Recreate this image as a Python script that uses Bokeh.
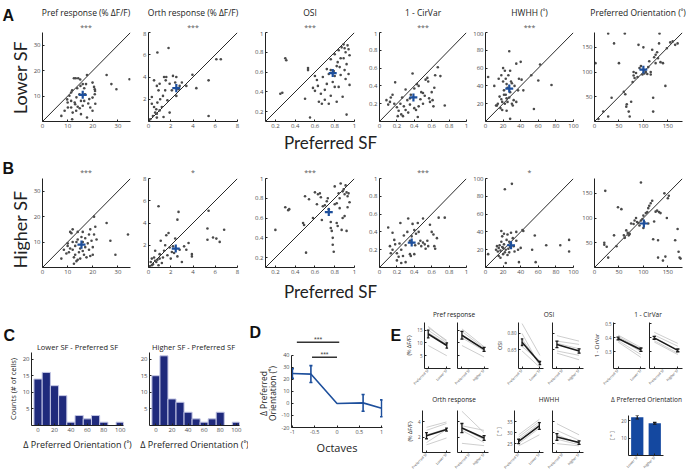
import math
from bokeh.plotting import figure
from bokeh.layouts import row, column
from bokeh.models import Range1d, FixedTicker, Label
from bokeh.embed import file_html
from bokeh.resources import INLINE

FONT = "Open Sans"
BIG_FONT = "Lato"
LETTER_FONT = "Liberation Sans"
BLUE = "#1d4f9c"
NAVY = "#1f2a7c"
BAR_BLUE = "#1448a0"
DOT = "#4a4a4a"
AX = "#222222"
TICK_TXT = "#4d4d4d"

# ------------------------------------------------------------------ data
SC_titles = ["Pref response (% ΔF/F)", "Orth response (% ΔF/F)", "OSI", "1 - CirVar",
             "HWHH (˚)", "Preferred Orientation (˚)"]
SC_lims = [(0, 35), (0, 8), (0.1, 1), (0, 1), (0, 100), (0, 180)]
SC_xticks = [[0, 10, 20, 30], [0, 2, 4, 6, 8], [0.2, 0.4, 0.6, 0.8, 1],
             [0, 0.2, 0.4, 0.6, 0.8, 1], [0, 20, 40, 60, 80, 100], [0, 50, 100, 150]]
SC_yticks = [[10, 20, 30], [2, 4, 6, 8], [0.2, 0.4, 0.6, 0.8, 1],
             [0.2, 0.4, 0.6, 0.8, 1], [20, 40, 60, 80, 100], [50, 100, 150]]
A_sig = ["***", "***", "***", "***", "***", ""]
B_sig = ["***", "*", "***", "***", "*", ""]

A_mean_x = [16, 2.5, 0.78, 0.39, 27, 100]
A_mean_y = [10.5, 3.0, 0.59, 0.27, 37, 105]
A_sem_x = [1.6, 0.36, 0.04, 0.045, 4.5, 8]
A_sem_y = [1.6, 0.36, 0.04, 0.045, 4.5, 8]
B_mean_x = [15.5, 2.45, 0.74, 0.37, 29, 101]
B_mean_y = [9, 1.7, 0.66, 0.28, 25, 89]
B_sem_x = [1.6, 0.36, 0.04, 0.045, 4.5, 8]
B_sem_y = [1.6, 0.36, 0.04, 0.045, 4.5, 8]

A1_pts = [(7.5, 2.2), (11.8, 0.9), (10, 7.5), (11.4, 8.1), (12.5, 17), (13.2, 17), (14.2, 17), (15, 16.5),
          (17.7, 18.3), (16, 14.7), (16.6, 13.1), (19.9, 15.3), (20.5, 13.6), (20.8, 12.7), (20.9, 12),
          (17.7, 1.6), (19.9, 4.2), (25.5, 18.3), (27.4, 14.7), (29.4, 12.7), (34.6, 16.6), (18.6, 8.8),
          (19.9, 9.4), (20.8, 10.7), (14, 5.8), (13.4, 4.2), (14.8, 5.2), (15.3, 8.1), (13, 6.8), (11.4, 5.5),
          (10.7, 10.1), (11.4, 11.4), (11.8, 12.3), (16.9, 10.7), (16.6, 8.1), (18.2, 7.1), (16, 6.2),
          (15.3, 2.9), (10.1, 5.5), (8.8, 4.2), (9.8, 8.7), (14.7, 10.7), (13.8, 13.1), (15.1, 14),
          (17.3, 14.7), (12, 3.5), (21, 7), (19, 5.5), (13.5, 9.5), (12.8, 7.5)]
A2_pts = [(0.8, 6.2), (1.8, 6.6), (0.5, 3.7), (0.9, 2.8), (0.3, 2.2), (1.4, 4), (1.6, 4), (1.55, 3.7),
          (1.9, 3.4), (2.2, 4.1), (2.5, 4), (2.4, 3.5), (2.7, 2.9), (3.95, 4.2), (4.3, 3), (3.4, 3.2),
          (6.1, 5.6), (6.5, 5.6), (5.4, 3.7), (5.4, 0.5), (1.9, 0.8), (2.5, 2.3), (0.15, 0.2), (0.4, 0.5),
          (0.6, 0.8), (0.75, 0.7), (1, 1), (1.2, 1.3), (0.5, 1.3), (0.3, 1.6), (0.75, 0.35), (1.35, 0.4),
          (0.7, 1.1), (0.8, 1.7), (1.05, 2), (1.3, 2.3), (1.5, 2.8), (0.75, 3.2), (1, 3.4), (1.7, 1.9),
          (2.1, 2.8), (2.8, 3.2), (3, 3.5)]
A3_pts = [(0.30, 0.74), (0.31, 0.72), (0.25, 0.38), (0.27, 0.39), (0.55, 0.14), (0.92, 0.17), (0.53, 0.64),
          (0.53, 0.62), (0.50, 0.33), (0.60, 0.56), (0.62, 0.52), (0.58, 0.44), (0.60, 0.41), (0.63, 0.46),
          (0.64, 0.30), (0.67, 0.28), (0.70, 0.32), (0.66, 0.38), (0.70, 0.42), (0.72, 0.48), (0.68, 0.55),
          (0.74, 0.58), (0.76, 0.62), (0.79, 0.61), (0.80, 0.56), (0.78, 0.50), (0.80, 0.45), (0.76, 0.36),
          (0.74, 0.28), (0.82, 0.30), (0.88, 0.35), (0.85, 0.65), (0.83, 0.70), (0.86, 0.74), (0.80, 0.78),
          (0.84, 0.82), (0.87, 0.85), (0.89, 0.88), (0.90, 0.84), (0.91, 0.80), (0.93, 0.87), (0.94, 0.83),
          (0.95, 0.77), (0.92, 0.68), (0.90, 0.62), (0.94, 0.58), (0.91, 0.53), (0.95, 0.47), (0.89, 0.74),
          (0.82, 0.66), (0.76, 0.73), (0.72, 0.63), (0.86, 0.57), (0.84, 0.45)]
A4_pts = [(0.08, 0.24), (0.10, 0.19), (0.12, 0.22), (0.13, 0.27), (0.15, 0.30), (0.17, 0.20), (0.18, 0.44),
          (0.20, 0.16), (0.22, 0.12), (0.24, 0.20), (0.25, 0.08), (0.27, 0.06), (0.28, 0.17), (0.30, 0.13),
          (0.30, 0.36), (0.32, 0.24), (0.33, 0.10), (0.35, 0.19), (0.36, 0.30), (0.38, 0.54), (0.40, 0.37),
          (0.40, 0.15), (0.42, 0.13), (0.44, 0.05), (0.45, 0.40), (0.47, 0.25), (0.48, 0.33), (0.50, 0.32),
          (0.52, 0.29), (0.53, 0.47), (0.55, 0.49), (0.56, 0.45), (0.58, 0.22), (0.60, 0.33), (0.61, 0.24),
          (0.62, 0.17), (0.64, 0.52), (0.67, 0.61), (0.70, 0.51), (0.75, 0.18), (0.45, 0.17), (0.50, 0.20),
          (0.35, 0.26), (0.26, 0.27), (0.21, 0.06), (0.43, 0.42), (0.57, 0.26), (0.63, 0.38)]
A5_pts = [(3, 50), (10, 40), (12, 18), (15, 48), (16, 28), (17, 15), (18, 25), (18, 52), (19, 22), (20, 60),
          (20, 45), (21, 35), (22, 57), (22, 20), (23, 48), (23, 30), (24, 42), (24, 26), (25, 22), (25, 38),
          (26, 52), (27, 79), (27, 27), (28, 57), (28, 33), (29, 45), (30, 43), (30, 20), (31, 18), (32, 24),
          (33, 40), (35, 65), (35, 22), (37, 35), (38, 48), (40, 67), (41, 47), (43, 35), (28, 3), (55, 14),
          (60, 46), (62, 64), (75, 41), (52, 52), (14, 20), (13, 18), (19, 13), (21, 30), (24, 12)]
A6_pts = [(2, 118), (8, 5), (18, 20), (28, 10), (28, 178), (35, 48), (40, 158), (50, 118), (60, 60), (62, 178),
          (63, 55), (65, 30), (66, 35), (70, 20), (72, 10), (75, 40), (78, 80), (80, 100), (80, 93), (82, 88),
          (85, 98), (88, 90), (90, 155), (92, 108), (95, 112), (98, 95), (100, 150), (102, 97), (105, 100),
          (108, 96), (110, 110), (112, 122), (115, 95), (118, 145), (120, 48), (120, 20), (122, 130),
          (125, 135), (128, 140), (130, 128), (132, 158), (133, 178), (135, 120), (140, 118), (145, 72),
          (148, 148), (155, 160), (160, 162), (165, 155), (170, 158), (115, 100), (125, 118)]

B1_pts = [(7.5, 3.5), (8.5, 7), (9.5, 5.5), (10, 8.5), (10.5, 6), (11, 7.5), (11, 14), (11.5, 13.5), (12, 15),
          (12, 10), (12.5, 4), (13, 8.5), (13, 5), (13.5, 2.5), (14, 14), (14, 11), (14.5, 6), (15, 7.5),
          (15, 3.5), (15.5, 12), (16, 10), (16, 14), (16.5, 5), (17, 8), (17, 11.5), (17.5, 4), (18, 9.5),
          (18.5, 7), (18.5, 13), (19, 15), (19.5, 10.5), (20, 5), (20, 8), (20.5, 20), (20.5, 13), (21, 16),
          (21.5, 11), (10, 9.5), (12, 7), (13.5, 10), (16, 6.5), (25.5, 17.5), (27, 10.5), (29, 5), (34, 13),
          (12.5, 1.5), (14, 3), (19, 4.5)]
B2_pts = [(0.9, 5.5), (2.7, 5), (2.6, 4.3), (5.4, 5.1), (5.3, 3.5), (6.8, 3.4), (5.8, 2.7), (6.1, 2.6),
          (6.4, 2.3), (5.3, 2.5), (3.9, 1.2), (3.9, 1.0), (3.6, 2.2), (0.1, 0.1), (0.2, 0.5), (0.3, 0.8),
          (0.4, 0.3), (0.5, 0.9), (0.6, 0.6), (0.7, 0.5), (0.8, 0.7), (0.9, 0.2), (1.0, 0.8), (1.0, 1.2),
          (1.1, 2.4), (1.2, 0.4), (1.4, 1.5), (1.5, 2.0), (1.6, 2.9), (1.7, 1.1), (1.8, 3.1), (1.9, 1.8),
          (2.0, 0.8), (2.1, 1.4), (2.2, 1.9), (2.3, 1.3), (2.4, 2.6), (2.6, 1.0), (2.8, 1.6), (3.0, 0.5),
          (3.2, 1.9), (3.4, 1.6), (0.3, 0.2), (0.6, 1.5), (1.3, 0.9)]
B3_pts = [(0.20, 0.48), (0.30, 0.71), (0.33, 0.68), (0.34, 0.69), (0.48, 0.55), (0.49, 0.53), (0.50, 0.82),
          (0.51, 0.25), (0.54, 0.79), (0.58, 0.60), (0.60, 0.86), (0.62, 0.74), (0.63, 0.84), (0.65, 0.85),
          (0.66, 0.81), (0.68, 0.72), (0.70, 0.73), (0.72, 0.77), (0.73, 0.80), (0.76, 0.50), (0.76, 0.56),
          (0.77, 0.47), (0.78, 0.33), (0.79, 0.26), (0.78, 0.40), (0.80, 0.74), (0.80, 0.92), (0.82, 0.75),
          (0.82, 0.55), (0.83, 0.52), (0.84, 0.85), (0.85, 0.70), (0.86, 0.95), (0.87, 0.48), (0.88, 0.87),
          (0.89, 0.89), (0.90, 0.84), (0.91, 0.93), (0.92, 0.86), (0.93, 0.82), (0.94, 0.85), (0.95, 0.76),
          (0.90, 0.62), (0.92, 0.47), (0.88, 0.60), (0.93, 0.71), (0.85, 0.80), (0.74, 0.69), (0.67, 0.58)]
B4_pts = [(0.10, 0.45), (0.12, 0.24), (0.13, 0.16), (0.15, 0.20), (0.15, 0.39), (0.17, 0.31), (0.18, 0.26),
          (0.20, 0.16), (0.20, 0.08), (0.22, 0.12), (0.23, 0.27), (0.24, 0.50), (0.25, 0.05), (0.25, 0.20),
          (0.27, 0.13), (0.28, 0.36), (0.30, 0.06), (0.30, 0.25), (0.32, 0.40), (0.33, 0.55), (0.35, 0.15),
          (0.36, 0.13), (0.37, 0.35), (0.38, 0.49), (0.40, 0.42), (0.40, 0.15), (0.41, 0.25), (0.42, 0.38),
          (0.44, 0.50), (0.45, 0.40), (0.47, 0.30), (0.48, 0.24), (0.50, 0.28), (0.52, 0.26), (0.53, 0.21),
          (0.55, 0.30), (0.56, 0.24), (0.58, 0.48), (0.60, 0.40), (0.62, 0.37), (0.63, 0.24), (0.64, 0.21),
          (0.66, 0.33), (0.68, 0.56), (0.75, 0.56), (0.50, 0.55), (0.45, 0.27), (0.35, 0.30)]
B5_pts = [(3, 15), (12, 20), (13, 24), (14, 18), (15, 22), (15, 13), (16, 25), (17, 19), (17, 11), (18, 29),
          (18, 41), (19, 35), (20, 22), (20, 15), (21, 26), (21, 38), (22, 17), (22, 88), (23, 20), (23, 5),
          (24, 31), (25, 37), (26, 21), (27, 29), (27, 17), (28, 23), (29, 39), (30, 94), (31, 33), (32, 24),
          (33, 18), (35, 30), (35, 40), (37, 20), (38, 6), (40, 22), (42, 42), (43, 41), (53, 20), (56, 36),
          (57, 6), (69, 25), (85, 25), (95, 31), (95, 18), (19, 23), (25, 14)]
B6_pts = [(20, 50), (20, 46), (22, 155), (25, 42), (28, 20), (40, 65), (45, 43), (48, 122), (55, 118), (60, 65),
          (62, 60), (65, 75), (68, 70), (70, 65), (72, 68), (75, 89), (80, 88), (82, 95), (85, 100), (87, 92),
          (90, 90), (92, 85), (95, 95), (95, 172), (98, 98), (100, 105), (102, 92), (105, 110), (108, 112),
          (110, 120), (112, 125), (115, 130), (118, 135), (120, 57), (122, 93), (125, 113), (128, 115),
          (130, 20), (130, 55), (132, 112), (135, 110), (140, 14), (143, 150), (145, 22), (148, 100),
          (150, 140), (152, 145), (165, 55), (170, 78), (172, 32), (174, 20), (176, 18), (100, 80), (110, 89)]

# Panel C histograms
C_bins = [0, 10, 20, 30, 40, 50, 60, 70, 80, 90, 100]
C_lower = [14, 16, 12, 9, 1, 3, 2, 3, 1, 0, 1]
C_higher = [15, 21, 8, 7, 4, 2, 1, 2, 4, 0, 1]
C_titles = ["Lower SF - Preferred SF", "Higher SF - Preferred SF"]

# Panel D
D_x = [-1, -0.585, 0, 0.585, 1]
D_y = [25, 24.5, 0, 0.5, -4]
D_err = [4, 7, 0, 7, 7]
D_xticks = [-1, -0.5, 0, 0.5, 1]
D_yticks = [-20, -10, 0, 10, 20, 30, 40]
D_sig_x0 = [-0.9, -0.56]
D_sig_x1 = [0.05, 0.0]
D_sig_y = [51, 38.5]
D_sig_txt = ["***", "***"]

# Panel E (first value = Preferred SF, second = Lower/Higher SF)
E1a_gray = [(16.5, 10.5), (16, 11), (15, 10), (14, 9.5), (9, 5)]
E1b_gray = [(15.5, 8.5), (14.5, 8), (13, 7.5), (12, 7), (9, 4.5)]
E2a_gray = [(0.89, 0.60), (0.80, 0.50), (0.75, 0.52), (0.68, 0.55), (0.64, 0.49)]
E2b_gray = [(0.78, 0.73), (0.73, 0.70), (0.71, 0.66), (0.64, 0.60), (0.62, 0.56)]
E3a_gray = [(0.42, 0.33), (0.41, 0.32), (0.40, 0.30), (0.38, 0.28), (0.37, 0.26)]
E3b_gray = [(0.44, 0.36), (0.42, 0.34), (0.40, 0.31), (0.38, 0.29), (0.37, 0.28)]
E4a_gray = [(3.3, 4.0), (2.9, 3.8), (2.3, 3.1), (1.3, 3.0), (1.0, 1.9)]
E4b_gray = [(5.4, 2.6), (3.5, 2.9), (3.2, 1.7), (2.9, 1.3), (1.2, 0.9)]
E5a_gray = [(29, 36), (28, 35), (27, 34), (25, 32), (24, 29)]
E5b_gray = [(34, 29), (31, 26.5), (29, 25), (27, 24.5), (25, 24)]
E1a_mean, E1a_err = [13.5, 9.0], [1.5, 1.0]
E1b_mean, E1b_err = [13.0, 7.5], [1.5, 0.8]
E2a_mean, E2a_err = [0.72, 0.53], [0.03, 0.015]
E2b_mean, E2b_err = [0.70, 0.64], [0.03, 0.02]
E3a_mean, E3a_err = [0.395, 0.315], [0.01, 0.012]
E3b_mean, E3b_err = [0.40, 0.31], [0.01, 0.01]
E4a_mean, E4a_err = [2.2, 3.0], [0.4, 0.2]
E4b_mean, E4b_err = [3.2, 1.9], [0.6, 0.3]
E5a_mean, E5a_err = [26, 33], [1.0, 1.5]
E5b_mean, E5b_err = [28, 25.5], [1.5, 0.8]
E6_cats = ["Lower SF", "Higher SF"]
E6_vals = [22, 18.5]
E6_err = [1.0, 0.5]
E_xl_lower = ["Preferred SF", "Lower SF"]
E_xl_higher = ["Preferred SF", "Higher SF"]
E_top_titles = ["Pref response", "OSI", "1 - CirVar"]
E_bot_titles = ["Orth response", "HWHH", "Δ Preferred Orientation"]


# ------------------------------------------------------------------ helpers
def style_axis(ax, fs="6px"):
    ax.axis_line_color = AX
    ax.axis_line_width = 1
    ax.major_tick_line_color = AX
    ax.major_tick_in = 2
    ax.major_tick_out = 0
    ax.minor_tick_line_color = None
    ax.major_label_text_font = FONT
    ax.major_label_text_font_size = fs
    ax.major_label_text_color = TICK_TXT
    ax.major_label_standoff = 2
    ax.axis_label_text_font = FONT
    ax.axis_label_text_font_style = "normal"
    ax.axis_label_text_color = "#222222"
    ax.axis_label_standoff = 2


def make_fig(w, h, lb, rb, tb, bb, xr, yr, axes=True):
    kw = dict(width=w, height=h, x_range=Range1d(xr[0], xr[1]), y_range=Range1d(yr[0], yr[1]),
              output_backend="svg", toolbar_location=None,
              min_border_left=lb, min_border_right=rb, min_border_top=tb, min_border_bottom=bb)
    if not axes:
        kw["x_axis_type"] = None
        kw["y_axis_type"] = None
    p = figure(**kw)
    p.outline_line_color = None
    p.background_fill_color = "white"
    p.border_fill_color = "white"
    p.grid.visible = False
    for ax in p.axis:
        style_axis(ax)
    return p


def text_fig(w, h):
    # blank figure whose frame is the whole canvas, 1 unit = 1 px (y up)
    return make_fig(w, h, 0, 0, 0, 0, (0, w), (0, h), axes=False)


def set_ticks(ax, ticks, labels=None):
    ax.ticker = FixedTicker(ticks=list(ticks))
    ax.major_label_overrides = {t: (labels[i] if labels is not None else ("%g" % t))
                                for i, t in enumerate(ticks)}


def add_text(p, x, y, text, size, align="center", baseline="middle", angle=0.0,
             font=FONT, style="normal", color="#222222"):
    p.add_layout(Label(x=x, y=y, text=text, text_font=font, text_font_size="%gpx" % size,
                       text_font_style=style, text_align=align, text_baseline=baseline, angle=angle,
                       text_color=color))


def letter(p, x, y, t):
    add_text(p, x, y, t, 16, align="left", baseline="alphabetic", font=LETTER_FONT, style="bold",
             color="#111111")


def errbars(p, xs, ys, es, cap, color, lw):
    p.segment(x0=xs, y0=[y - e for y, e in zip(ys, es)], x1=xs, y1=[y + e for y, e in zip(ys, es)],
              line_color=color, line_width=lw)
    keep = [i for i, e in enumerate(es) if e > 0]
    cx0 = [xs[i] - cap for i in keep] * 2
    cx1 = [xs[i] + cap for i in keep] * 2
    cy = [ys[i] - es[i] for i in keep] + [ys[i] + es[i] for i in keep]
    p.segment(x0=cx0, y0=cy, x1=cx1, y1=cy, line_color=color, line_width=lw)


def scatter_fig(k, pts, mx, my, sx, sy, w, lb, rb, h, tb, bb):
    lo, hi = SC_lims[k]
    p = make_fig(w, h, lb, rb, tb, bb, (lo, hi), (lo, hi))
    set_ticks(p.xaxis[0], SC_xticks[k])
    set_ticks(p.yaxis[0], SC_yticks[k])
    p.line(x=[lo, hi], y=[lo, hi], line_color="#111111", line_width=0.9)
    p.scatter(x=[q[0] for q in pts], y=[q[1] for q in pts], size=2.6, fill_color=DOT, line_color=None)
    p.segment(x0=[mx - sx, mx], y0=[my, my - sy], x1=[mx + sx, mx], y1=[my, my + sy],
              line_color=BLUE, line_width=2.2)
    return p


def e_fig(w, lb, rb, h, tb, bb, yr, yt, gray, mean, err, xl, ylabel=None, show_y=True, ytl=None):
    p = make_fig(w, h, lb, rb, tb, bb, (0.8, 2.2), yr)
    set_ticks(p.xaxis[0], [1, 2], xl)
    p.xaxis.major_label_orientation = math.pi / 4
    p.xaxis.major_label_text_font_size = "3.5px"
    p.xaxis.major_label_standoff = 1
    if show_y:
        set_ticks(p.yaxis[0], yt, ytl)
    else:
        set_ticks(p.yaxis[0], yt, ["" for _ in yt])
    p.yaxis.major_label_text_font_size = "4.5px"
    if ylabel:
        p.yaxis.axis_label = ylabel
        p.yaxis.axis_label_text_font_size = "5.5px"
        p.yaxis.axis_label_standoff = 1
    p.multi_line(xs=[[1, 2] for _ in gray], ys=[[g[0], g[1]] for g in gray],
                 line_color="#c2c2c2", line_width=0.8)
    p.line(x=[1, 2], y=mean, line_color="#1a1a1a", line_width=1.6)
    errbars(p, [1, 2], mean, err, 0.07, "#1a1a1a", 1.3)
    return p


# ------------------------------------------------------------------ layout geometry (pixels)
TOTAL_W = 686
SC_w = [108, 112, 112, 108, 109, 107]
SC_lb = [11, 10, 15, 17, 15, 14]
SC_rb = [8, 13, 8, 4, 6, 4]
LAB_W = 30
SC_frame_cx = []
_x = LAB_W
for w, lb, rb in zip(SC_w, SC_lb, SC_rb):
    SC_frame_cx.append(_x + lb + (w - lb - rb) / 2.0)
    _x += w

# ---- row A
A_pts = [A1_pts, A2_pts, A3_pts, A4_pts, A5_pts, A6_pts]
titleA = text_fig(TOTAL_W, 31)
letter(titleA, 2, 16, "A")
for k in range(6):
    add_text(titleA, SC_frame_cx[k], 19, SC_titles[k], 8.5)
    if A_sig[k]:
        add_text(titleA, SC_frame_cx[k], 0, A_sig[k], 7, baseline="bottom", color="#555555")
labelA = text_fig(LAB_W, 100)
add_text(labelA, 19, 54, "Lower SF", 18, angle=math.pi / 2, font=BIG_FONT)
A_figs = [scatter_fig(k, A_pts[k], A_mean_x[k], A_mean_y[k], A_sem_x[k], A_sem_y[k],
                      SC_w[k], SC_lb[k], SC_rb[k], 100, 1, 10) for k in range(6)]
psfA = text_fig(TOTAL_W, 21)
add_text(psfA, 330, 10.5, "Preferred SF", 17, font=BIG_FONT)

# ---- row B
B_pts = [B1_pts, B2_pts, B3_pts, B4_pts, B5_pts, B6_pts]
titleB = text_fig(TOTAL_W, 24)
letter(titleB, 2, 8, "B")
for k in range(6):
    if B_sig[k]:
        add_text(titleB, SC_frame_cx[k], 0, B_sig[k], 7, baseline="bottom", color="#555555")
labelB = text_fig(LAB_W, 104)
add_text(labelB, 19, 51, "Higher SF", 18, angle=math.pi / 2, font=BIG_FONT)
B_figs = [scatter_fig(k, B_pts[k], B_mean_x[k], B_mean_y[k], B_sem_x[k], B_sem_y[k],
                      SC_w[k], SC_lb[k], SC_rb[k], 104, 2, 13) for k in range(6)]
psfB = text_fig(TOTAL_W, 21)
add_text(psfB, 330, 10.5, "Preferred SF", 17, font=BIG_FONT)

# ---- row 3 (height 173)
R3 = 173
# panel C
stripC = text_fig(248, 51)
letter(stripC, 3, 17, "C")
hists = []
for i, (vals, lb, rb, w) in enumerate([(C_lower, 31, 14, 137), (C_higher, 10, 9, 111)]):
    h = make_fig(w, 122, lb, rb, 0, 49, (-8, 104), (0, 22))
    set_ticks(h.xaxis[0], [0, 20, 40, 60, 80, 100])
    set_ticks(h.yaxis[0], [5, 10, 15, 20])
    h.vbar(x=C_bins, top=vals, bottom=0, width=10, fill_color=NAVY, line_color="#c3c6e4", line_width=1)
    h.xaxis.axis_label = "Δ Preferred Orientation (˚)"
    h.xaxis.axis_label_text_font_size = "9px"
    h.xaxis.axis_label_standoff = 3
    hists.append(h)
    cx = (0 if i == 0 else 137) + lb + (w - lb - rb) / 2.0
    add_text(stripC, cx, 6, C_titles[i], 7.5)
hists[0].yaxis.axis_label = "Counts (# of cells)"
hists[0].yaxis.axis_label_text_font_size = "7.5px"
panelC = column(stripC, row(hists[0], hists[1]))

# panel D
Dlab = text_fig(30, R3)
letter(Dlab, 1, 142, "D")
add_text(Dlab, 15, 81, "Δ Preferred", 8.5, angle=math.pi / 2)
add_text(Dlab, 24, 81, "Orientation (˚)", 8.5, angle=math.pi / 2)
D = make_fig(110, R3, 12, 6, 35, 47, (-1.02, 1.02), (-20, 55.8))
set_ticks(D.xaxis[0], D_xticks)
set_ticks(D.yaxis[0], D_yticks)
D.axis.major_label_text_font_size = "5.5px"
D.yaxis.bounds = (-20, 40)
D.xaxis.axis_label = "Octaves"
D.xaxis.axis_label_text_font_size = "11px"
D.xaxis.axis_label_standoff = 3
D.line(x=D_x, y=D_y, line_color=BLUE, line_width=1.6)
errbars(D, D_x, D_y, D_err, 0.035, BLUE, 1.6)
D.segment(x0=D_sig_x0, y0=D_sig_y, x1=D_sig_x1, y1=D_sig_y, line_color="#333333", line_width=1.5)
for x0, x1, y, t in zip(D_sig_x0, D_sig_x1, D_sig_y, D_sig_txt):
    D.text(x=[(x0 + x1) / 2.0], y=[y], text=[t], text_font_size="7px", text_align="center",
           text_baseline="bottom", text_color="#444444", y_offset=1)
# wrapping the text figure in its own column keeps its frame from being aligned to D's frame
panelD = row(column(Dlab), D)

# panel E
Elab = text_fig(14, R3)
letter(Elab, 2, 139, "E")
TOP_H, TOP_TB, TOP_BB = 70, 2, 19
BOT_H, BOT_TB, BOT_BB = 69, 5, 19
E1a = e_fig(51, 17, 3, TOP_H, TOP_TB, TOP_BB, (0, 18), [5, 10, 15], E1a_gray, E1a_mean, E1a_err,
            E_xl_lower, ylabel="(% ΔF/F)")
E1b = e_fig(39, 4, 4, TOP_H, TOP_TB, TOP_BB, (0, 18), [5, 10, 15], E1b_gray, E1b_mean, E1b_err,
            E_xl_higher, show_y=False)
E2a = e_fig(54, 22, 3, TOP_H, TOP_TB, TOP_BB, (0.48, 0.9), [0.65, 0.8], E2a_gray, E2a_mean, E2a_err,
            E_xl_lower, ylabel="OSI", ytl=["0.65", "0.80"])
E2b = e_fig(42, 6, 5, TOP_H, TOP_TB, TOP_BB, (0.48, 0.9), [0.65, 0.8], E2b_gray, E2b_mean, E2b_err,
            E_xl_higher, show_y=False)
E3a = e_fig(59, 25, 2, TOP_H, TOP_TB, TOP_BB, (0.18, 0.51), [0.3, 0.4, 0.5], E3a_gray, E3a_mean, E3a_err,
            E_xl_lower, ylabel="1 - CirVar")
E3b = e_fig(39, 2, 4, TOP_H, TOP_TB, TOP_BB, (0.18, 0.51), [0.3, 0.4, 0.5], E3b_gray, E3b_mean, E3b_err,
            E_xl_higher, show_y=False)
E4a = e_fig(51, 17, 3, BOT_H, BOT_TB, BOT_BB, (0, 5.5), [2, 4], E4a_gray, E4a_mean, E4a_err,
            E_xl_lower, ylabel="(% ΔF/F)")
E4b = e_fig(39, 4, 4, BOT_H, BOT_TB, BOT_BB, (0, 5.5), [2, 4], E4b_gray, E4b_mean, E4b_err,
            E_xl_higher, show_y=False)
E5a = e_fig(54, 22, 3, BOT_H, BOT_TB, BOT_BB, (21, 40), [25, 30, 35], E5a_gray, E5a_mean, E5a_err,
            E_xl_lower, ylabel="[ ° ]")
E5b = e_fig(42, 6, 5, BOT_H, BOT_TB, BOT_BB, (21, 40), [25, 30, 35], E5b_gray, E5b_mean, E5b_err,
            E_xl_higher, show_y=False)
E6 = make_fig(98, BOT_H, 40, 23, 10, BOT_BB, (0.5, 2.5), (0, 23))
set_ticks(E6.xaxis[0], [1, 2], E6_cats)
E6.xaxis.major_label_orientation = math.pi / 4
E6.xaxis.major_label_text_font_size = "3.5px"
E6.xaxis.major_label_standoff = 1
set_ticks(E6.yaxis[0], [10, 20])
E6.yaxis.major_label_text_font_size = "4.5px"
E6.yaxis.axis_label = "[ ° ]"
E6.yaxis.axis_label_text_font_size = "5.5px"
E6.vbar(x=[1, 2], top=E6_vals, bottom=0, width=0.7, fill_color=BAR_BLUE, line_color=None)
errbars(E6, [1, 2], E6_vals, E6_err, 0.1, "#1a1a1a", 1.2)

Etop = text_fig(284, 19)
for x, t in zip([51.5, 146.5, 245.5], E_top_titles):
    add_text(Etop, x, 6, t, 6.5)
Ebot = text_fig(284, 15)
for x, t in zip([51.5, 146.5, 244], E_bot_titles):
    add_text(Ebot, x, 6, t, 6.5)
E_col = column(Etop, row(E1a, E1b, E2a, E2b, E3a, E3b), Ebot, row(E4a, E4b, E5a, E5b, column(E6)))
panelE = row(Elab, E_col)

layout = column(titleA, row(column(labelA), *A_figs), psfA,
                titleB, row(column(labelB), *B_figs), psfB,
                row(panelC, panelD, panelE))

open("out.html", "w").write(file_html(layout, INLINE))
